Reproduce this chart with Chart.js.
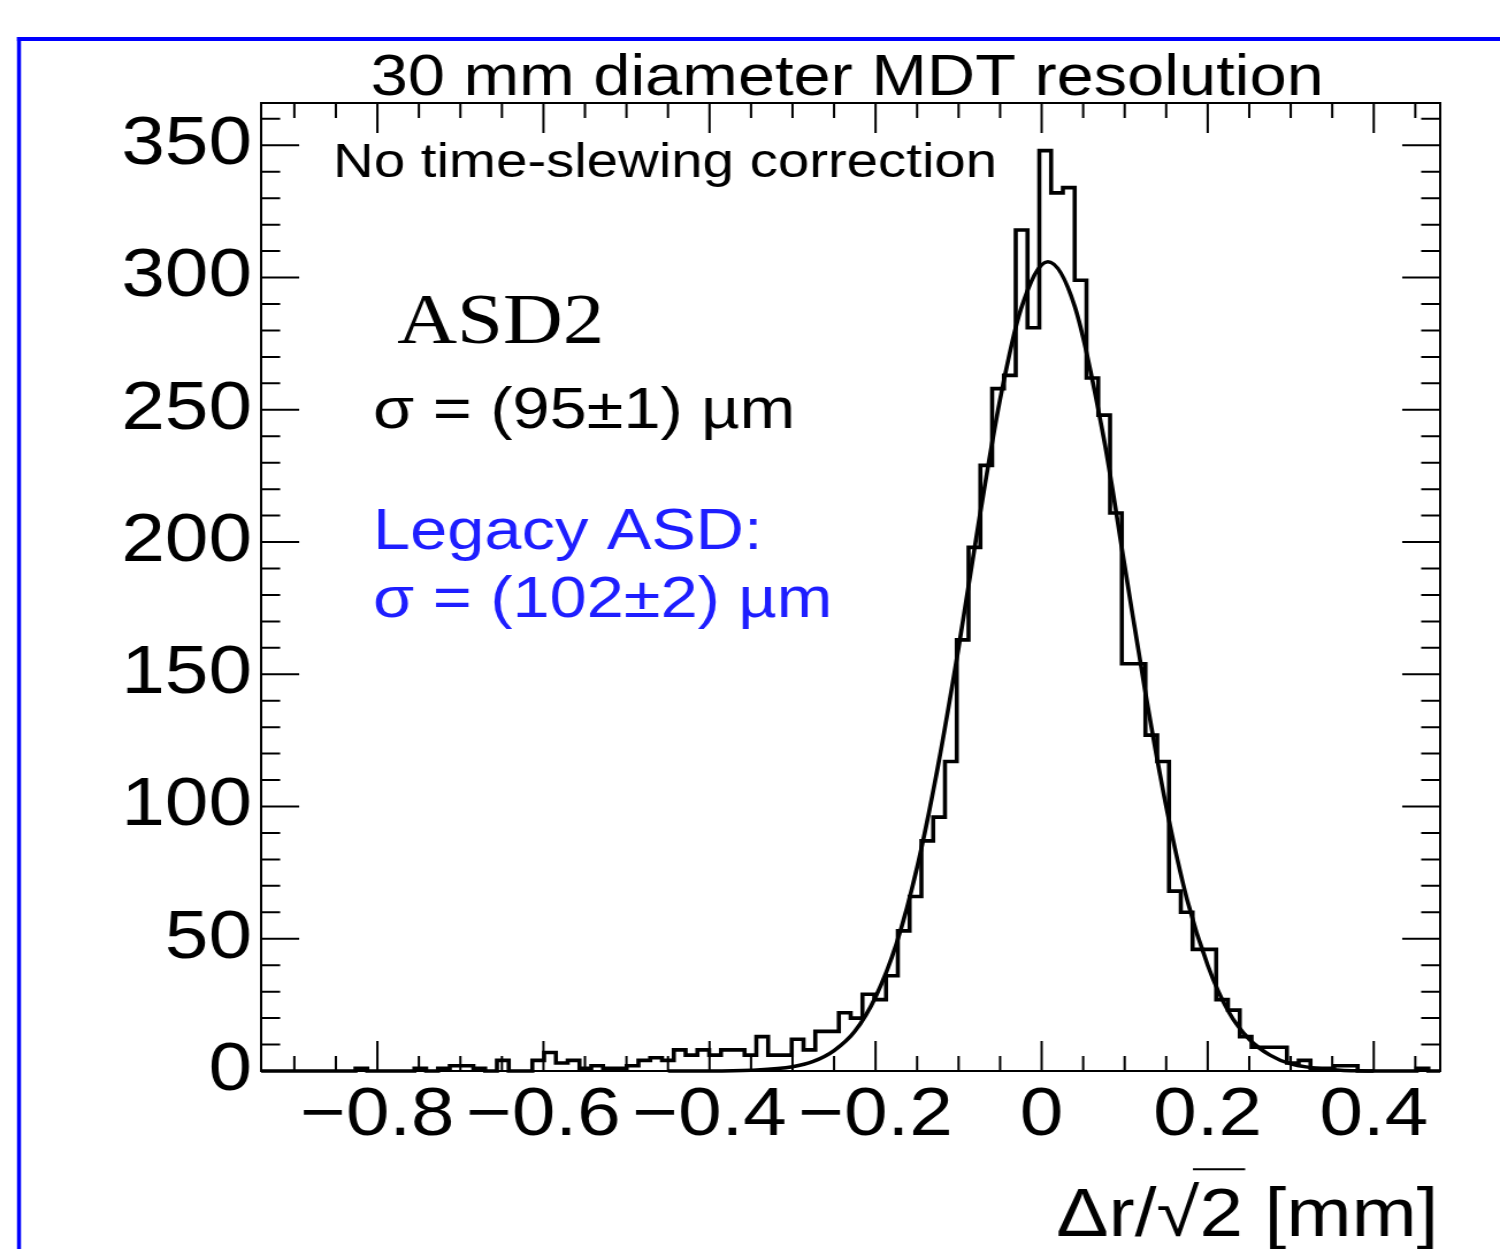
<!DOCTYPE html>
<html>
<head>
<meta charset="utf-8">
<script src="https://cdn.jsdelivr.net/npm/chart.js@4.4.1/dist/chart.umd.min.js"></script>
<style>
  html, body { margin: 0; padding: 0; background: #ffffff; overflow: hidden; }
  #c { display: block; }
</style>
</head>
<body>
<canvas id="c" style="width:1500px;height:1249px;"></canvas>
<script>
// ---------------- data ----------------
const xMin = -0.94;          // histogram range (mm)
const xMax = 0.48;
const binWidth = 0.0142;     // 100 bins
const counts = [
  0, 0, 0, 0, 0, 0, 0, 0, 1, 0,
  0, 0, 0, 1, 0, 1, 2, 2, 1, 0,
  4, 0, 0, 4, 7, 3, 4, 1, 2, 1,
  1, 2, 4, 5, 4, 8, 6, 8, 6, 8,
  8, 6, 13, 6, 6, 12, 8, 15, 15, 22,
  20, 29, 27, 36, 53, 66, 87, 96, 117, 163,
  198, 229, 258, 263, 318, 281, 348, 332, 334, 299,
  262, 248, 211, 154, 154, 127, 117, 68, 60, 46,
  46, 27, 23, 13, 9, 9, 9, 3, 4, 1,
  1, 2, 2, 0, 0, 0, 0, 0, 1, 0
];
// Gaussian fit curve
const fitX = [-0.45, -0.40, -0.35, -0.30, -0.275, -0.25, -0.225, -0.20, -0.175, -0.15, -0.125, -0.10, -0.075, -0.05, -0.025, 0.0075, 0.04, 0.075, 0.10, 0.125, 0.15, 0.175, 0.20, 0.225, 0.25, 0.275, 0.30, 0.35, 0.40];
const fitY = [0, 0, 0.3, 1.6, 3.6, 7.7, 15, 28, 48, 77, 115, 160, 209, 254, 288, 306, 289, 239, 191, 143, 100, 65, 40, 22.5, 12, 6, 2.7, 0.5, 0];

const xTicks = [-0.8, -0.6, -0.4, -0.2, 0, 0.2, 0.4];
const yTicks = [0, 50, 100, 150, 200, 250, 300, 350];
const yMax = 366;

const titleText = '30 mm diameter MDT resolution';
const noteText = 'No time-slewing correction';
const asdText = 'ASD2';
const sigmaText = 'σ = (95±1) µm';
const legacyText = 'Legacy ASD:';
const legacySigmaText = 'σ = (102±2) µm';
const xTitleText = 'Δr/√2 [mm]';

// ---------------- layout ----------------
const SX = 1.15;                       // horizontal stretch of the reference picture
const W = Math.round(1500 / SX);
const H = 1249;
const sans = '"Liberation Sans", Arial, Helvetica, sans-serif';
const serif = '"Liberation Serif", "Times New Roman", serif';
const px = (x) => x / SX;              // reference x -> canvas x

const canvas = document.getElementById('c');
canvas.width = W;
canvas.height = H;
canvas.style.width = '1500px';
canvas.style.height = H + 'px';

const histPoints = counts.map((c, k) => ({ x: xMin + k * binWidth, y: c }));
histPoints.push({ x: xMin + counts.length * binWidth, y: counts[counts.length - 1] });
const fitPoints = fitX.map((x, i) => ({ x: x, y: fitY[i] }));

function fmtX(v) {
  if (Math.abs(v) < 1e-9) return '0';
  return (v < 0 ? '\u2212' : '') + Math.abs(v).toFixed(1);
}

function text(ctx, s, x, y, size, family, color, align) {
  ctx.font = size + 'px ' + family;
  ctx.fillStyle = color;
  ctx.textAlign = align || 'left';
  ctx.textBaseline = 'alphabetic';
  ctx.fillText(s, x, y);
}

const decor = {
  id: 'decor',
  beforeDraw(chart) {
    const ctx = chart.ctx;
    ctx.save();
    ctx.fillStyle = '#ffffff';
    ctx.fillRect(0, 0, chart.width, chart.height);
    // blue frame of the slide picture
    ctx.fillStyle = '#0000ff';
    ctx.fillRect(px(17), 37, px(4), H);
    ctx.fillRect(px(17), 37, W, 4);
    ctx.restore();
  },
  afterDatasetsDraw(chart) {
    const ctx = chart.ctx;
    const a = chart.chartArea;
    const xs = chart.scales.x, ys = chart.scales.y;
    ctx.save();
    ctx.strokeStyle = '#000';
    ctx.lineWidth = 2;
    ctx.beginPath();
    // x ticks (major 0.2, minor 0.05), bottom and top, inside
    for (let i = Math.ceil(xMin / 0.05); i * 0.05 <= xMax + 1e-9; i++) {
      const v = i * 0.05;
      const p = xs.getPixelForValue(v);
      const major = Math.abs(Math.round(v / 0.2) * 0.2 - v) < 1e-6;
      const len = major ? 30 : 15;
      ctx.moveTo(p, a.bottom); ctx.lineTo(p, a.bottom - len);
      ctx.moveTo(p, a.top); ctx.lineTo(p, a.top + len);
    }
    // y ticks (major 50, minor 10), left and right, inside
    for (let v = 0; v <= yMax; v += 10) {
      const p = ys.getPixelForValue(v);
      const len = (v % 50 === 0) ? px(38) : px(19);
      ctx.moveTo(a.left, p); ctx.lineTo(a.left + len, p);
      ctx.moveTo(a.right, p); ctx.lineTo(a.right - len, p);
    }
    ctx.stroke();
    ctx.strokeRect(a.left, a.top, a.right - a.left, a.bottom - a.top);
    ctx.restore();
  },
  afterDraw(chart) {
    const ctx = chart.ctx;
    ctx.save();
    text(ctx, titleText, px(847), 95, 58, sans, '#000', 'center');
    text(ctx, noteText, px(333), 177, 49, sans, '#000', 'left');
    text(ctx, asdText, px(397), 343, 72, serif, '#000', 'left');
    text(ctx, sigmaText, px(373), 428, 58, sans, '#000', 'left');
    text(ctx, legacyText, px(373), 549, 58, sans, '#1e1eff', 'left');
    text(ctx, legacySigmaText, px(373), 617, 58, sans, '#1e1eff', 'left');
    // axis title with overline on the square root
    const size = 68;
    const right = px(1438);
    const base = 1236;
    text(ctx, xTitleText, right, base, size, sans, '#000', 'right');
    ctx.font = size + 'px ' + sans;
    const wTail = ctx.measureText(' [mm]').width;
    const w2 = ctx.measureText('2').width;
    const wRoot = ctx.measureText('√').width;
    const x2r = right - wTail;
    const x2l = x2r - w2;
    ctx.strokeStyle = '#000';
    ctx.lineWidth = 2;
    ctx.beginPath();
    ctx.moveTo(x2l - wRoot * 0.15, base - size * 0.98);
    ctx.lineTo(x2r + 2, base - size * 0.98);
    ctx.stroke();
    ctx.restore();
  }
};

new Chart(canvas, {
  type: 'line',
  data: {
    datasets: [
      {
        label: 'ASD2',
        data: histPoints,
        stepped: true,
        borderColor: '#000000',
        borderWidth: 3.6,
        pointRadius: 0,
        fill: false,
        clip: 6,
        order: 2
      },
      {
        label: 'Gaussian fit',
        data: fitPoints,
        borderColor: '#000000',
        borderWidth: 3.6,
        pointRadius: 0,
        fill: false,
        cubicInterpolationMode: 'monotone',
        clip: 6,
        order: 1
      }
    ]
  },
  options: {
    responsive: false,
    animation: false,
    devicePixelRatio: 1,
    layout: { padding: { top: 103, right: W - Math.round(px(1440)), left: 0, bottom: 0 } },
    plugins: {
      legend: { display: false },
      title: { display: false },
      tooltip: { enabled: false }
    },
    scales: {
      x: {
        type: 'linear',
        min: xMin,
        max: xMax,
        grid: { display: false },
        border: { display: false },
        afterBuildTicks: (s) => { s.ticks = xTicks.map((v) => ({ value: v })); },
        afterFit: (s) => { s.height = H - 1071; },
        ticks: {
          color: '#000',
          font: { family: sans, size: 68 },
          padding: -4,
          maxRotation: 0,
          autoSkip: false,
          callback: (v) => fmtX(v)
        }
      },
      y: {
        type: 'linear',
        min: 0,
        max: yMax,
        grid: { display: false },
        border: { display: false },
        afterBuildTicks: (s) => { s.ticks = yTicks.map((v) => ({ value: v })); },
        afterFit: (s) => { s.width = Math.round(px(261)); },
        ticks: {
          color: '#000',
          font: { family: sans, size: 68 },
          padding: 0,
          autoSkip: false,
          callback: (v) => String(v)
        }
      }
    }
  },
  plugins: [decor]
});
</script>
</body>
</html>
